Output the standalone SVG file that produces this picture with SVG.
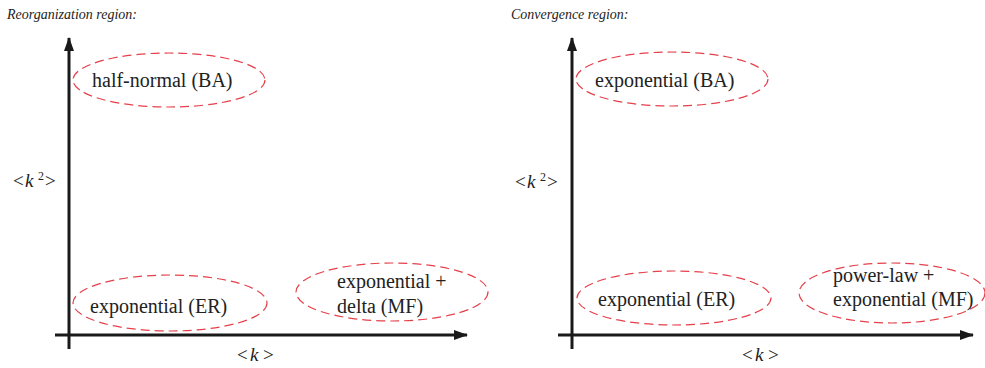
<svg xmlns="http://www.w3.org/2000/svg" width="985" height="368" viewBox="0 0 985 368">
<style>
.t{font-family:'Liberation Serif','Times New Roman',Times,'DejaVu Serif',serif;fill:#222;font-size:20px}
.ttl{font-family:'Liberation Serif','Times New Roman',Times,'DejaVu Serif',serif;fill:#222;font-size:14px;font-style:italic}
.m{font-family:'Liberation Serif','Times New Roman',Times,'DejaVu Serif',serif;fill:#222;font-size:19px}
.i{font-style:italic}
.ax{stroke:#1a1a1a;stroke-width:3;fill:none}
.el{fill:none;stroke:#e5404a;stroke-width:1.2;stroke-dasharray:9 5}
</style>
<defs>
<marker id="ah" viewBox="0 0 14 10" refX="13" refY="5" markerWidth="14" markerHeight="10" markerUnits="userSpaceOnUse" orient="auto">
<path d="M0,0 L14,5 L0,10 Z" fill="#1a1a1a"/>
</marker>
</defs>
<rect width="985" height="368" fill="#fff"/>
<text class="ttl" x="7" y="19">Reorganization region:</text>
<text class="ttl" x="511" y="19">Convergence region:</text>
<g id="connectors">
<line class="ax" x1="69" y1="349" x2="69" y2="38" marker-end="url(#ah)"/>
<line class="ax" x1="55" y1="335" x2="467" y2="335" marker-end="url(#ah)"/>
<line class="ax" x1="572" y1="349" x2="572" y2="38" marker-end="url(#ah)"/>
<line class="ax" x1="558" y1="335" x2="973" y2="335" marker-end="url(#ah)"/>
</g>
<g id="axis-labels">
<text class="m" y="187"><tspan x="13">&lt;</tspan><tspan x="25" class="i">k</tspan><tspan x="38" y="180" font-size="12">2</tspan><tspan x="45" y="187">&gt;</tspan></text>
<text class="m" y="361"><tspan x="237">&lt;</tspan><tspan x="250" class="i">k</tspan><tspan x="263">&gt;</tspan></text>
<text class="m" y="188"><tspan x="515">&lt;</tspan><tspan x="527" class="i">k</tspan><tspan x="540" y="181" font-size="12">2</tspan><tspan x="547" y="188">&gt;</tspan></text>
<text class="m" y="361"><tspan x="742">&lt;</tspan><tspan x="755" class="i">k</tspan><tspan x="768">&gt;</tspan></text>
</g>
<g id="node-halfnormal-BA">
<ellipse class="el" cx="169" cy="80" rx="96" ry="27"/>
<text class="t" x="92" y="87">half-normal (BA)</text>
</g>
<g id="node-exp-ER-left">
<ellipse class="el" cx="170" cy="303" rx="97" ry="28"/>
<text class="t" x="90" y="313">exponential (ER)</text>
</g>
<g id="node-exp-delta-MF">
<ellipse class="el" cx="392" cy="292" rx="96" ry="29"/>
<text class="t" x="337" y="288">exponential +</text>
<text class="t" x="337" y="313">delta (MF)</text>
</g>
<g id="node-exp-BA">
<ellipse class="el" cx="672" cy="79" rx="96" ry="27"/>
<text class="t" x="595" y="87">exponential (BA)</text>
</g>
<g id="node-exp-ER-right">
<ellipse class="el" cx="674" cy="298" rx="97" ry="27"/>
<text class="t" x="598" y="306">exponential (ER)</text>
</g>
<g id="node-powerlaw-exp-MF">
<ellipse class="el" cx="892" cy="293" rx="93" ry="30"/>
<text class="t" x="833" y="282">power-law +</text>
<text class="t" x="833" y="306">exponential (MF)</text>
</g>
</svg>
